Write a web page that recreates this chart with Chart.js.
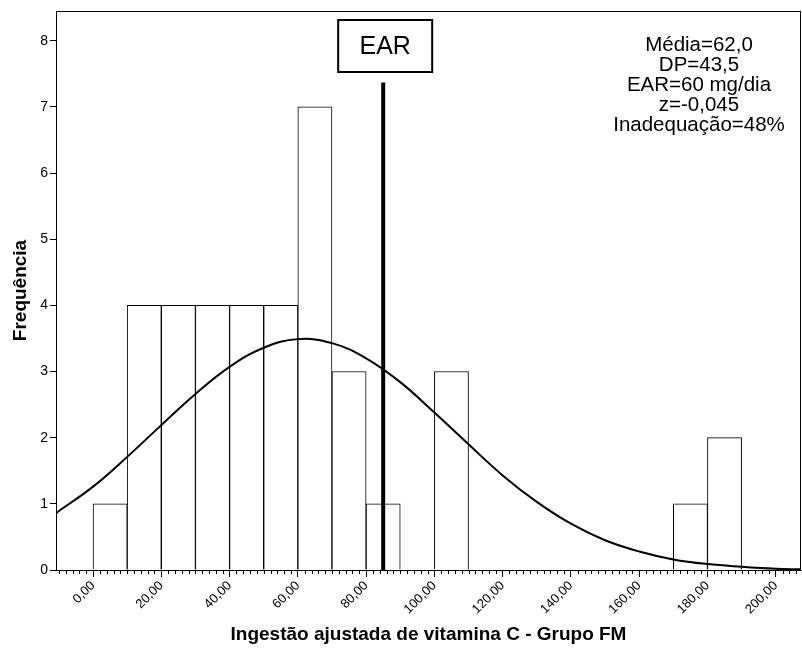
<!DOCTYPE html>
<html>
<head>
<meta charset="utf-8">
<script src="https://cdn.jsdelivr.net/npm/chart.js@4"></script>
<style>
  html, body { margin: 0; padding: 0; background: #fff; }
  #wrap { width: 802px; height: 648px; }
</style>
</head>
<body>
<div id="wrap"><canvas id="histChart" width="802" height="648"></canvas></div>
<script>
// histograma da ingestao ajustada de vitamina C (classes de 10 mg)
var binCentres = [5, 15, 25, 35, 45, 55, 65, 75, 85, 105, 175, 185];
var binCounts = [1, 4, 4, 4, 4, 4, 7, 3, 1, 3, 1, 2];

// curva normal
var curveX = [-10.85, 0, 10, 20, 30, 40, 50, 60, 70, 80, 90, 100, 110, 120, 130, 140, 150, 160, 170, 180, 190, 200, 207.4];
var curveY = [0.86, 1.26, 1.71, 2.19, 2.66, 3.07, 3.36, 3.49, 3.43, 3.20, 2.84, 2.38, 1.90, 1.43, 1.03, 0.70, 0.45, 0.28, 0.16, 0.09, 0.05, 0.02, 0.01];

// linha da EAR
var earX = 85;
var earTop = 7.37;
var earLabel = 'EAR';

var statLines = ['Média=62,0', 'DP=43,5', 'EAR=60 mg/dia', 'z=-0,045', 'Inadequação=48%'];

var xMin = -10.85, xMax = 207.4, xStep = 20;
var yMin = 0, yMax = 8.45, yStep = 1;

Chart.defaults.font.family = '"Liberation Sans", Arial, sans-serif';
Chart.defaults.color = '#000';

var bars = binCentres.map(function(c, i) { return { x: c, y: binCounts[i] }; });
var curve = curveX.map(function(x, i) { return { x: x, y: curveY[i] }; });
var earLine = [{ x: earX, y: 0 }, { x: earX, y: earTop }];

var extras = {
  id: 'extras',
  afterDraw: function(chart) {
    var c = chart.ctx, a = chart.chartArea;
    var xs = chart.scales.x;
    c.save();
    // moldura
    c.strokeStyle = '#000';
    c.lineWidth = 1;
    c.strokeRect(a.left + 0.5, a.top + 0.5, a.right - a.left - 1, a.bottom - a.top);
    // marcas menores a cada 2
    c.beginPath();
    for (var v = -10; v <= xMax; v += 2) {
      if (v % xStep === 0) continue;
      var px = Math.round(xs.getPixelForValue(v)) + 0.5;
      c.moveTo(px, a.bottom);
      c.lineTo(px, a.bottom + 4);
    }
    c.stroke();
    // caixa EAR
    var bx = xs.getPixelForValue(earX) + 2;
    c.fillStyle = '#fff';
    c.fillRect(bx - 47, 20, 94, 52);
    c.lineWidth = 2;
    c.strokeRect(bx - 47, 20, 94, 52);
    c.fillStyle = '#000';
    c.font = '25px "Liberation Sans", Arial, sans-serif';
    c.textAlign = 'center';
    c.textBaseline = 'middle';
    c.fillText(earLabel, bx, 47);
    // estatisticas
    c.font = '20.5px "Liberation Sans", Arial, sans-serif';
    statLines.forEach(function(t, i) {
      c.fillText(t, 699, 45 + i * 20);
    });
    c.restore();
  }
};

var ctx = document.getElementById('histChart');
new Chart(ctx, {
  type: 'bar',
  data: {
    datasets: [
      { type: 'line', data: curve, borderColor: '#000', borderWidth: 2, pointRadius: 0, tension: 0.4, fill: false, order: 1 },
      { type: 'line', data: earLine, borderColor: '#000', borderWidth: 4, pointRadius: 0, fill: false, order: 0 },
      { type: 'bar', data: bars, backgroundColor: '#fff', borderColor: '#000', borderWidth: 1,
        barPercentage: 1, categoryPercentage: 1, order: 2 }
    ]
  },
  options: {
    responsive: false,
    animation: false,
    layout: { padding: { top: 11, right: 1, left: 0, bottom: 0 } },
    plugins: { legend: { display: false }, tooltip: { enabled: false } },
    scales: {
      x: {
        type: 'linear', min: xMin, max: xMax, offset: false,
        afterFit: function(s) { s.height = 78; },
        grid: { offset: false, drawOnChartArea: false, tickLength: 7, color: '#000' },
        border: { color: '#000' },
        ticks: {
          stepSize: xStep, includeBounds: false, autoSkip: false,
          minRotation: 45, maxRotation: 45, padding: 1,
          font: { size: 13 },
          callback: function(v) { return v.toFixed(2).replace('.', ','); }
        },
        title: { display: true, text: 'Ingestão ajustada de vitamina C - Grupo FM', font: { size: 19, weight: 'bold' }, padding: 2 }
      },
      y: {
        min: yMin, max: yMax,
        afterFit: function(s) { s.width = 56; },
        grid: { drawOnChartArea: false, tickLength: 6, color: '#000' },
        border: { color: '#000' },
        ticks: { stepSize: yStep, includeBounds: false, padding: 2, font: { size: 14 } },
        title: { display: true, text: 'Frequência', font: { size: 19, weight: 'bold' }, padding: 9 }
      }
    }
  },
  plugins: [extras]
});
</script>
</body>
</html>
